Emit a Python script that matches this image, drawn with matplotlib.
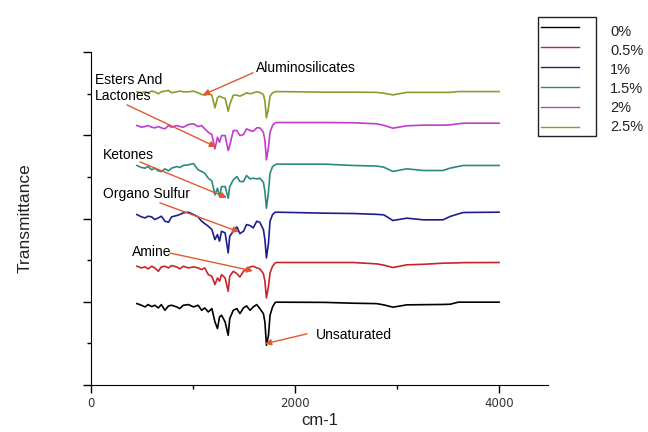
import matplotlib
matplotlib.use('Agg')
import matplotlib.pyplot as plt
from matplotlib.lines import Line2D
from matplotlib.patches import Rectangle

# wavenumber grid (cm-1)
wn = [450, 495, 530, 560, 595, 625, 660, 690, 725, 760, 790, 840, 870, 905, 955,
      1005, 1050, 1085, 1115, 1150, 1185, 1215, 1240, 1260, 1280, 1315, 1345, 1360,
      1395, 1430, 1460, 1495, 1525, 1560, 1590, 1625, 1655, 1690, 1705, 1720, 1740,
      1755, 1780, 1805,
      1820, 2290, 2570, 2800, 2870, 2960, 3095, 3260, 3450, 3520, 3600, 3650, 4000]

t_0 = [1.956, 1.916, 1.876, 1.932, 1.884, 1.916, 1.852, 1.932, 1.795, 1.900, 1.916,
       1.876, 1.836, 1.916, 1.932, 1.876, 1.916, 1.795, 1.852, 1.755, 1.836, 1.515,
       1.355, 1.635, 1.675, 1.515, 1.195, 1.595, 1.795, 1.836, 1.715, 1.852, 1.900,
       1.795, 1.876, 1.932, 1.836, 1.715, 1.515, 0.955, 1.195, 1.675, 1.876, 1.980,
       1.990, 1.985, 1.965, 1.955, 1.925, 1.870, 1.925, 1.930, 1.935, 1.940, 1.990,
       1.990, 1.990]

t_05 = [2.853, 2.813, 2.837, 2.789, 2.853, 2.813, 2.732, 2.837, 2.853, 2.813, 2.869,
        2.837, 2.789, 2.853, 2.813, 2.837, 2.813, 2.773, 2.813, 2.652, 2.612, 2.412,
        2.572, 2.492, 2.652, 2.572, 2.252, 2.612, 2.732, 2.676, 2.596, 2.732, 2.789,
        2.837, 2.853, 2.813, 2.789, 2.676, 2.492, 2.092, 2.372, 2.692, 2.853, 2.933,
        2.943, 2.943, 2.943, 2.910, 2.880, 2.822, 2.887, 2.900, 2.927, 2.930, 2.935,
        2.940, 2.943]

t_1 = [4.095, 4.039, 4.015, 4.055, 4.039, 3.975, 4.015, 4.055, 3.934, 3.910, 4.039,
       4.071, 4.095, 4.135, 4.151, 4.095, 4.039, 3.934, 3.878, 3.814, 3.734, 3.494,
       3.614, 3.454, 3.694, 3.654, 3.173, 3.574, 3.694, 3.798, 3.638, 3.694, 3.854,
       3.830, 3.774, 3.934, 3.910, 3.734, 3.494, 3.053, 3.414, 3.934, 4.095, 4.151,
       4.152, 4.128, 4.120, 4.100, 4.088, 3.952, 4.008, 3.968, 3.968, 4.048, 4.110,
       4.144, 4.152]

t_15 = [5.273, 5.225, 5.209, 5.249, 5.169, 5.209, 5.145, 5.129, 5.193, 5.145, 5.209,
        5.249, 5.225, 5.273, 5.289, 5.321, 5.169, 5.129, 5.088, 4.968, 4.904, 4.568,
        4.728, 4.528, 4.768, 4.768, 4.488, 4.768, 4.928, 5.008, 4.888, 4.888, 5.032,
        4.952, 4.968, 4.952, 4.968, 4.872, 4.648, 4.247, 4.648, 5.088, 5.249, 5.289,
        5.306, 5.306, 5.274, 5.260, 5.234, 5.130, 5.194, 5.153, 5.153, 5.210, 5.250,
        5.274, 5.274]

t_2 = [6.234, 6.194, 6.210, 6.234, 6.194, 6.178, 6.210, 6.178, 6.154, 6.234, 6.194,
       6.234, 6.210, 6.194, 6.258, 6.274, 6.210, 6.234, 6.154, 6.073, 6.017, 5.673,
       5.953, 5.833, 5.993, 5.993, 5.633, 5.753, 6.113, 6.113, 5.993, 6.017, 6.154,
       6.113, 6.097, 6.178, 6.178, 6.073, 5.873, 5.409, 5.713, 6.073, 6.234, 6.298,
       6.306, 6.306, 6.300, 6.275, 6.240, 6.170, 6.227, 6.243, 6.243, 6.250, 6.275,
       6.290, 6.290]

t_25 = [7.044, 7.020, 7.044, 7.020, 7.060, 7.044, 6.996, 7.044, 7.060, 7.076, 7.020,
        7.044, 7.060, 7.044, 7.044, 7.060, 7.020, 6.980, 6.963, 6.996, 6.963, 6.659,
        6.899, 6.939, 6.915, 6.883, 6.579, 6.739, 6.963, 6.963, 6.939, 6.980, 7.020,
        6.996, 7.020, 7.044, 7.028, 6.980, 6.819, 6.419, 6.659, 6.939, 7.020, 7.044,
        7.050, 7.036, 7.036, 7.030, 7.010, 6.970, 7.030, 7.030, 7.030, 7.030, 7.050,
        7.050, 7.050]

series = [t_0, t_05, t_1, t_15, t_2, t_25]
labels = ['0%', '0.5%', '1%', '1.5%', '2%', '2.5%']
colors = ['#000000', '#c8242a', '#1e1e8c', '#2b8a7e', '#c03ccc', '#8e9a2c']

# annotations: text, text pos, arrow tail, arrow head
notes = [
    ('Aluminosilicates', (1618, 7.62), (1588, 7.50), (1098, 6.97)),
    ('Esters And\nLactones', (39, 7.13), (353, 6.73), (1225, 5.72)),
    ('Ketones', (118, 5.53), (480, 5.36), (1333, 4.50)),
    ('Organo Sulfur', (118, 4.60), (676, 4.375), (1451, 3.68)),
    ('Amine', (402, 3.20), (775, 3.17), (1588, 2.74)),
    ('Unsaturated', (2200, 1.20), (2118, 1.23), (1706, 0.99)),
]

fig = plt.figure(figsize=(6.48, 4.32), dpi=100)
ax = fig.add_axes([0.1404, 0.1088, 0.7053, 0.7708])

for y, c in zip(series, colors):
    ax.plot(wn, y, color=c, lw=1.2)

for txt, tpos, tail, head in notes:
    ax.annotate('', xy=head, xytext=tail,
                arrowprops=dict(arrowstyle='-|>', color='#e4572e', lw=1,
                                mutation_scale=9, shrinkA=0, shrinkB=0))
    ax.text(tpos[0], tpos[1], txt, ha='left', va='center', fontsize=10,
            family='Liberation Sans', linespacing=1.2)

ax.set_xlim(0, 4480)
ax.set_ylim(0, 8)
ax.set_xticks([0, 2000, 4000])
ax.set_xticks([1000, 3000], minor=True)
ax.set_yticks([0, 2, 4, 6, 8])
ax.set_yticks([1, 3, 5, 7], minor=True)
ax.set_yticklabels([])
ax.tick_params(which='major', direction='out', length=5.5, width=1, labelsize=8.5,
               labelcolor='#333333')
ax.tick_params(which='minor', direction='out', length=3, width=1)
ax.spines['top'].set_visible(False)
ax.spines['right'].set_visible(False)
ax.set_xlabel('cm-1', fontsize=12, family='Liberation Sans', color='#222222', labelpad=2)
ax.set_ylabel('Transmittance', fontsize=12.5, family='Liberation Sans', color='#222222',
              labelpad=33)

# legend drawn by hand: box around the lines, labels outside
fig.add_artist(Rectangle((538 / 648, 1 - 136 / 432), 58 / 648, 119 / 432,
                         transform=fig.transFigure, fill=False, ec='#222222', lw=1))
for i, (lab, c) in enumerate(zip(labels, colors)):
    ly = 1 - (27 + 20 * i) / 432
    fig.add_artist(Line2D([541 / 648, 579 / 648], [ly, ly], transform=fig.transFigure,
                          color=c, lw=1))
    fig.text(610 / 648, 1 - (32 + 19 * i) / 432, lab, ha='left', va='center',
             fontsize=10.5, family='Liberation Sans', color='#222222')

fig.savefig('out.png', dpi=100)
